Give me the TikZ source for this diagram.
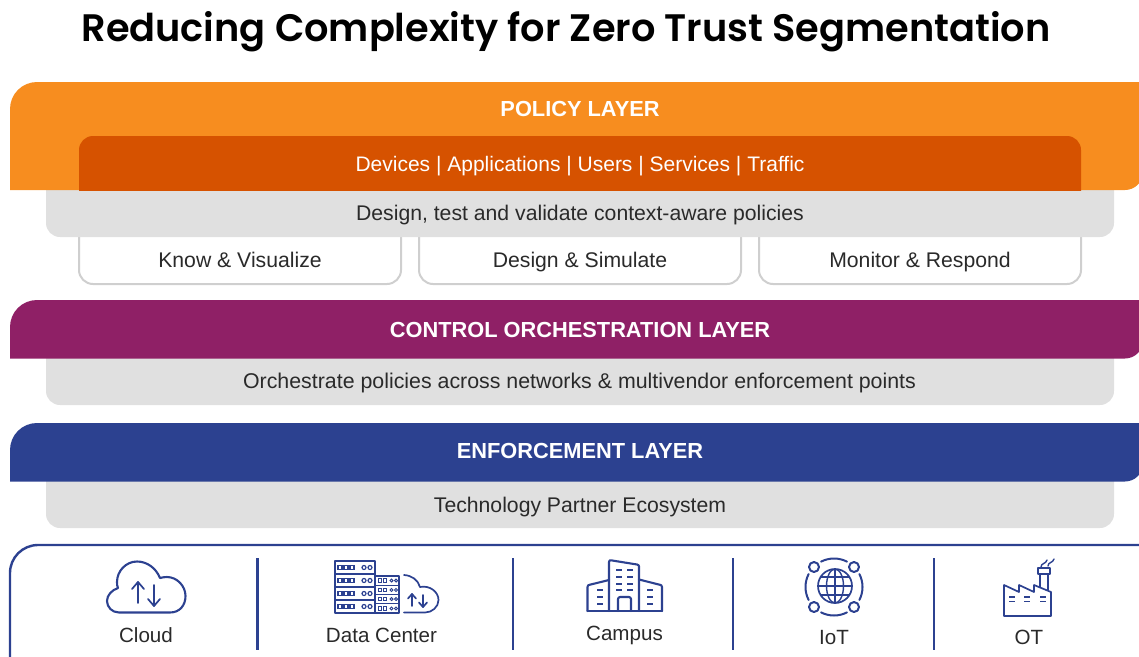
\documentclass[tikz,border=0pt]{standalone}
\usepackage{fontspec}
\usetikzlibrary{calc}
\setmainfont{Liberation Sans}
\newfontfamily\titlefont{Poppins SemiBold}
\definecolor{orangeL}{HTML}{F78D1F}
\definecolor{orangeD}{HTML}{D65200}
\definecolor{greyL}{HTML}{E0E0E0}
\definecolor{greyB}{HTML}{CFCFCF}
\definecolor{purpleL}{HTML}{8F2066}
\definecolor{blueL}{HTML}{2C4190}
\definecolor{inkT}{HTML}{2A2A2A}
\tikzset{
  head/.style={anchor=base,text=white,font=\fontsize{21.8}{24}\selectfont\bfseries},
  sub/.style={anchor=base,text=white,font=\fontsize{21}{24}\selectfont},
  body/.style={anchor=base,text=inkT,font=\fontsize{21.2}{24}\selectfont},
  lab/.style={anchor=base,text=inkT,font=\fontsize{20.6}{24}\selectfont},
  ico/.style={draw=blueL,line width=2.1pt,line join=round,line cap=round},
  icoT/.style={draw=blueL,line width=1.7pt,line join=round,line cap=round},
  whitebox/.style={draw=greyB,line width=2pt,fill=white}
}
\begin{document}
\begin{tikzpicture}[x=1pt,y=-1pt]
\useasboundingbox (0,0) rectangle (1139,656);
\clip (0,0) rectangle (1139,656);
% white boxes
\foreach \xa/\xb in {79/401,419/741,759/1081}{
  \draw[whitebox,rounded corners=14pt] (\xa,225) -- (\xa,284) -- (\xb,284) -- (\xb,225);
}
% grey panels (their tops run under the coloured bands)
\fill[greyL,rounded corners=14pt] (46,165) rectangle (1114,237);
\fill[greyL,rounded corners=14pt] (46,330) rectangle (1114,405);
\fill[greyL,rounded corners=14pt] (46,450) rectangle (1114,528);
% policy layer
\fill[orangeL] (10,190) [rounded corners=27pt] -- (10,82) -- (1170,82) [sharp corners] -- (1170,150) -- (1143,150) [rounded corners=18pt] -- (1143,190) [sharp corners] -- (10,190) -- cycle;
\begin{scope}
\clip (0,0) rectangle (1139,190);
\fill[orangeD,rounded corners=14pt] (79,136) rectangle (1081,230);
\end{scope}
% control layer
\fill[purpleL] (10,358.5) [rounded corners=27pt] -- (10,300) -- (1170,300) [sharp corners] -- (1170,320) -- (1143,320) [rounded corners=18pt] -- (1143,358.5) [sharp corners] -- (10,358.5) -- cycle;
% enforcement layer
\fill[blueL] (10,481.5) [rounded corners=27pt] -- (10,423) -- (1170,423) [sharp corners] -- (1170,443) -- (1143,443) [rounded corners=18pt] -- (1143,481.5) [sharp corners] -- (10,481.5) -- cycle;
% bottom frame
\draw[blueL,line width=2.4pt,rounded corners=28pt] (10,690) -- (10,545) -- (1180,545);
\foreach \x in {257.5,513,733,934}{\draw[blueL,line width=2.4pt] (\x,558) -- (\x,650);}
% texts
\node[anchor=base,text=black,font=\titlefont\fontsize{38.3}{40}\selectfont] (title) at (566,41) {Reducing Complexity for Zero Trust Segmentation};
\node[head] (policy) at (580,116.5) {POLICY LAYER};
\node[sub] (devices) at (580,171.5) {Devices | Applications | Users | Services | Traffic};
\node[body] (design) at (580,220) {Design, test and validate context-aware policies};
\node[body] (know) at (240,267) {Know \& Visualize};
\node[body] (simulate) at (580,267) {Design \& Simulate};
\node[body] (monitor) at (920,267) {Monitor \& Respond};
\node[head] (control) at (580,337.5) {CONTROL ORCHESTRATION LAYER};
\node[body,font=\fontsize{21.35}{24}\selectfont] (orch) at (579.5,388) {Orchestrate policies across networks \& multivendor enforcement points};
\node[head] (enforce) at (580,458.5) {ENFORCEMENT LAYER};
\node[body] (tech) at (580,512) {Technology Partner Ecosystem};
\node[lab] (cloud) at (146,642) {Cloud};
\node[lab] (dc) at (381.5,642) {Data Center};
\node[lab] (campus) at (624.5,640) {Campus};
\node[lab] (iot) at (834,644) {IoT};
\node[lab] (ot) at (1029,644) {OT};
% cloud icon
\draw[ico] (119,612.5) -- (170,612.5) .. controls (180,612.5) and (185.5,605) .. (185.5,596) .. controls (185.5,586) and (177,577) .. (167,577) .. controls (164,577) and (162,577.5) .. (160,578) .. controls (156,568) and (147,561.5) .. (137,561.5) .. controls (126,561.5) and (117,571) .. (117,582) .. controls (117,584) and (117,586) .. (118,588) .. controls (112,590) and (107,595) .. (107,601) .. controls (107,607) and (112,612.5) .. (119,612.5);
\draw[icoT] (138,603) -- (138,582);
\draw[icoT] (132,589) -- (138,582) -- (144,589);
\draw[icoT] (154,585) -- (154,606);
\draw[icoT] (148,599) -- (154,606) -- (160,599);
% data center icon
\draw[icoT] (335,561) rectangle (375,613);
\foreach \y in {574,587,600}{\draw[icoT] (335,\y) -- (375,\y);}
\foreach \y in {567.5,580.5,593.5,606.5}{
  \foreach \x in {340,346,352}{\draw[blueL,line width=1.2pt] (\x-2,\y-2) rectangle (\x+2,\y+2);}
  \foreach \x in {364,370}{\draw[blueL,line width=1.2pt] (\x,\y) circle (2);}
}
\draw[icoT,line width=1.4pt] (375,576) rectangle (399,613);
\foreach \y in {585.25,594.5,603.75}{\draw[icoT,line width=1.4pt] (375,\y) -- (399,\y);}
\foreach \y in {580.6,589.9,599.1,608.4}{
  \foreach \x in {380,385}{\draw[blueL,line width=.9pt] (\x-1.7,\y-1.7) rectangle (\x+1.7,\y+1.7);}
  \foreach \x in {391.5,396}{\draw[blueL,line width=.9pt] (\x,\y) circle (1.5);}
}
\draw[icoT] (404,575) .. controls (412,575.5) and (418,580) .. (420,587) .. controls (430,585) and (438.5,592) .. (438.5,600) .. controls (438.5,607) and (432,612.5) .. (425,612.5) -- (404,612.5);
\draw[icoT] (412,606) -- (412,594);
\draw[icoT] (408,598.5) -- (412,594) -- (416,598.5);
\draw[icoT] (423,595) -- (423,607);
\draw[icoT] (419,602.5) -- (423,607) -- (427,602.5);
% campus icon
\draw[ico] (587.5,611) -- (587.5,587) .. controls (587.5,585.5) and (588.5,585) .. (589.5,584.8) -- (609,580);
\draw[ico] (609,611) -- (609,562) .. controls (609,560.5) and (610,560) .. (611,560.3) -- (637,564.5) .. controls (638.5,564.8) and (639,565.5) .. (639,566.5) -- (639,611);
\draw[ico] (639,579.5) -- (660,584.8) .. controls (661,585) and (662,585.5) .. (662,587) -- (662,611);
\draw[ico] (587.5,611) -- (662,611);
\draw[ico] (618,611) -- (618,599) .. controls (618,598) and (619,597) .. (620,597) -- (629,597) .. controls (630,597) and (631,598) .. (631,599) -- (631,611);
\foreach \y in {570,577,583.5,590}{
  \draw[blueL,line width=2pt] (616,\y) -- (622,\y);
  \draw[blueL,line width=2pt] (627,\y) -- (633,\y);
}
\foreach \y in {590,597,603.5}{
  \draw[blueL,line width=2pt] (597,\y) -- (603,\y);
  \draw[blueL,line width=2pt] (647,\y) -- (653,\y);
}
% IoT icon
\draw[icoT] (835,586) circle (17);
\draw[icoT,line width=1.4pt] (835,586) ellipse (8.5 and 17);
\draw[icoT,line width=1.4pt] (835,569) -- (835,603);
\draw[icoT,line width=1.4pt] (818,586) -- (852,586);
\draw[icoT,line width=1.4pt] (820.5,577) -- (849.5,577);
\draw[icoT,line width=1.4pt] (820.5,595) -- (849.5,595);
\foreach \x/\y in {814/567,854/567,814/607,854/607}{\draw[icoT,line width=2pt] (\x,\y) circle (5);}
\foreach \a/\b in {63/117,153/207,243/297,333/387}{
  \draw[icoT,line width=2pt] ($(834,587)+(\a:28.5)$) arc[start angle=\a,end angle=\b,radius=28.5];
}
% OT icon
\draw[icoT] (1004,585) -- (1019,592) -- (1019,585) -- (1034,592) -- (1034,585) -- (1051,592) -- (1051,616) -- (1004,616) -- cycle;
\draw[icoT] (1040,587) -- (1040,574);
\draw[icoT] (1048,590) -- (1048,574);
\draw[icoT] (1038,568) rectangle (1050,574);
\draw[icoT,line width=1.4pt] (1041,567) .. controls (1041,563) and (1046,564) .. (1047,560);
\draw[icoT,line width=1.4pt] (1048,566) .. controls (1048,562) and (1053,563) .. (1054,559);
\foreach \x in {1009,1024,1040}{
  \foreach \y in {597,601.5}{\draw[blueL,line width=1.5pt] (\x,\y) -- (\x+6,\y);}
}
\end{tikzpicture}
\end{document}
